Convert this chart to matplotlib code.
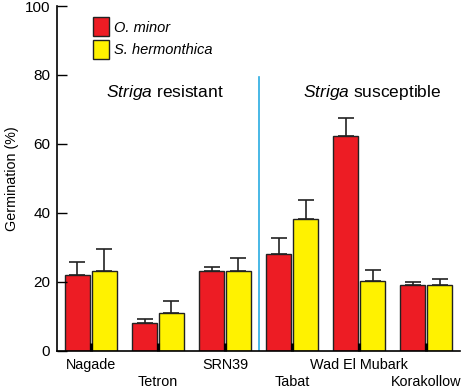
import numpy as np
import matplotlib.pyplot as plt
from matplotlib.patches import Patch

plt.rcParams['font.family'] = ['Liberation Sans', 'DejaVu Sans']
plt.rcParams['mathtext.fontset'] = 'custom'
plt.rcParams['mathtext.it'] = 'Liberation Sans:italic'
plt.rcParams['mathtext.rm'] = 'Liberation Sans'

# Germination data
cultivars = ['Nagade', 'Tetron', 'SRN39', 'Tabat', 'Wad El Mubark', 'Korakollow']
o_minor = [22.1, 8.1, 23.1, 28.2, 62.2, 19.0]
o_minor_err = [3.5, 1.2, 1.2, 4.5, 5.4, 1.0]
s_herm = [23.1, 11.0, 23.1, 38.2, 20.2, 19.0]
s_herm_err = [6.5, 3.4, 3.8, 5.5, 3.2, 1.7]
groups = ['resistant', 'susceptible']

red = '#ED1C24'
yellow = '#FFF200'
edge = '#222222'

fig = plt.figure(figsize=(4.64, 3.88), dpi=100)
ax = fig.add_axes([0.1235, 0.0961, 0.8675, 0.8884])

x = np.arange(len(cultivars))
w = 0.37
ax.bar(x - 0.2, o_minor, w, color=red, edgecolor=edge, linewidth=1,
       yerr=[np.zeros(len(x)), o_minor_err], capsize=5.5,
       error_kw=dict(ecolor='#222222', elinewidth=1.2, capthick=1.2))
ax.bar(x + 0.2, s_herm, w, color=yellow, edgecolor=edge, linewidth=1,
       yerr=[np.zeros(len(x)), s_herm_err], capsize=5.5,
       error_kw=dict(ecolor='#222222', elinewidth=1.2, capthick=1.2))

# divider between resistant and susceptible
ax.plot([2.5, 2.5], [0, 79.5], color='#29ABE2', linewidth=1.2)

ax.set_xlim(-0.5, 5.5)
ax.set_ylim(0, 100)
ax.spines['top'].set_visible(False)
ax.spines['right'].set_visible(False)
ax.spines['left'].set_linewidth(1.2)
ax.spines['bottom'].set_linewidth(1.2)

ax.set_yticks([0, 20, 40, 60, 80, 100])
ax.tick_params(axis='y', direction='in', length=7.5, width=1, labelsize=11, pad=5)
ax.set_xticks(x)
ax.set_xticklabels([])
ax.tick_params(axis='x', direction='in', length=6, width=2.2)

ax.set_ylabel('Germination (%)', fontsize=10.3, labelpad=4)

# cultivar names on two alternating rows
for i, name in enumerate(cultivars):
    yy = -0.0415 if i % 2 == 0 else -0.09
    ax.text(i, yy, name, transform=ax.get_xaxis_transform(), ha='center',
            va='center', fontsize=10.4)

ax.text(1.1, 75, r'$\it{Striga}$ ' + groups[0], ha='center', va='center', fontsize=12.5)
ax.text(4.2, 75, r'$\it{Striga}$ ' + groups[1], ha='center', va='center', fontsize=12.5)

handles = [Patch(facecolor=red, edgecolor=edge), Patch(facecolor=yellow, edgecolor=edge)]
leg = ax.legend(handles, ['O. minor', 'S. hermonthica'], loc='upper left',
                bbox_to_anchor=(0.055, 1.005), frameon=False,
                handlelength=1.1, handleheight=1.6, handletextpad=0.4,
                labelspacing=0.25, prop={'style': 'italic', 'size': 10.5})

fig.savefig('out.png', dpi=100)
